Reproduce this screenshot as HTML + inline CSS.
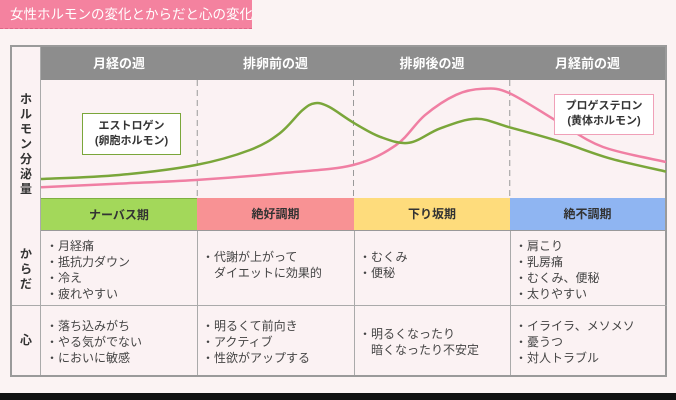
<!DOCTYPE html>
<html><head><meta charset="utf-8"><style>
body{margin:0;width:676px;height:400px;overflow:hidden;background:#fbf3f3;font-family:"Liberation Sans","Noto Sans CJK JP",sans-serif;position:relative}
.abs{position:absolute}
.ttl{left:0;top:0;width:252px;height:29px;background:#f4829f;color:#fff;font-size:13.5px;line-height:29px;padding-left:10px;box-sizing:border-box;border-bottom:1px dashed #e06688;white-space:nowrap;overflow:hidden}
.frame{left:10px;top:45px;width:657px;height:332px;border:2px solid #9a9a9a;box-sizing:border-box;background:#fbf2f3}
.hd{top:47px;height:33px;background:#8d8d8d;color:#fff;font-size:13px;font-weight:bold;text-align:center;line-height:33px}
.ph{top:198px;height:33px;font-size:12px;font-weight:bold;text-align:center;line-height:33px;color:#333;box-sizing:border-box;border-bottom:1px solid #999}
.cell{font-size:12px;color:#444;line-height:16px;white-space:nowrap}
.vl{left:12px;width:28px;text-align:center;font-size:12px;font-weight:bold;color:#333;line-height:15px}
.vline{width:1px;background:#aaa}
.bottom{left:0;top:393px;width:676px;height:7px;background:#111}
</style></head><body>
<div class="abs ttl">女性ホルモンの変化とからだと心の変化</div>
<div class="abs frame"></div>
<div class="abs vline" style="left:40px;top:47px;height:328px"></div>
<div class="abs hd" style="left:41px;width:156px">月経の週</div>
<div class="abs hd" style="left:197px;width:157px">排卵前の週</div>
<div class="abs hd" style="left:354px;width:156px">排卵後の週</div>
<div class="abs hd" style="left:510px;width:155px">月経前の週</div>
<div class="abs vl" style="top:92px">ホ<br>ル<br>モ<br>ン<br>分<br>泌<br>量</div>
<svg class="abs" style="left:0;top:0" width="676" height="400">
<g id="grid"></g><g id="lines"></g>
</svg>
<div class="abs" style="left:82px;top:113px;width:99px;height:42px;border:1.5px solid #7aa63a;background:#fff;box-sizing:border-box;text-align:center;font-size:11px;font-weight:bold;line-height:15px;padding-top:5px;color:#333">エストロゲン<br>(卵胞ホルモン)</div>
<div class="abs" style="left:554px;top:94px;width:100px;height:41px;border:1.5px solid #f0a0b8;background:#fff;box-sizing:border-box;text-align:center;font-size:11px;font-weight:bold;line-height:15px;padding-top:4px;color:#333">プロゲステロン<br>(黄体ホルモン)</div>
<div class="abs ph" style="left:41px;width:156px;background:#a3d85a;border-top:1px solid #7fb040">ナーバス期</div>
<div class="abs ph" style="left:197px;width:157px;background:#f89294">絶好調期</div>
<div class="abs ph" style="left:354px;width:156px;background:#fedc7c">下り坂期</div>
<div class="abs ph" style="left:510px;width:155px;background:#8fb5f2">絶不調期</div>
<div class="abs" style="left:12px;top:305px;width:655px;height:1px;background:#aaa"></div>
<div class="abs vline" style="left:197px;top:231px;height:144px"></div>
<div class="abs vline" style="left:354px;top:231px;height:144px"></div>
<div class="abs vline" style="left:510px;top:231px;height:144px"></div>
<div class="abs vl" style="top:247px">か<br>ら<br>だ</div>
<div class="abs vl" style="top:333px">心</div>
<div class="abs cell" style="left:46px;top:238px">・月経痛<br>・抵抗力ダウン<br>・冷え<br>・疲れやすい</div>
<div class="abs cell" style="left:202px;top:249px">・代謝が上がって<br>　ダイエットに効果的</div>
<div class="abs cell" style="left:359px;top:249px">・むくみ<br>・便秘</div>
<div class="abs cell" style="left:515px;top:238px">・肩こり<br>・乳房痛<br>・むくみ、便秘<br>・太りやすい</div>
<div class="abs cell" style="left:46px;top:318px">・落ち込みがち<br>・やる気がでない<br>・においに敏感</div>
<div class="abs cell" style="left:202px;top:318px">・明るくて前向き<br>・アクティブ<br>・性欲がアップする</div>
<div class="abs cell" style="left:359px;top:326px">・明るくなったり<br>　暗くなったり不安定</div>
<div class="abs cell" style="left:515px;top:318px">・イライラ、メソメソ<br>・憂うつ<br>・対人トラブル</div>
<div class="abs bottom"></div>
<script>
const weekBoundaries=[7,14,21];
const estrogenDays=[0,3.5,6.94,9.36,10.7,11.7,12.27,12.9,13.98,15.19,16.49,17.88,19.49,20.97,23.25,25.49,28];
const estrogenLevels=[15.8,19.2,27.5,40,54,73,79,76,63,51,46,58,66,59,47,33,22];
const progDays=[0,3.5,6.94,11,13.98,15.9,17.2,18.6,19.8,20.97,23.25,25.18,28];
const progLevels=[9,12,15,21,27.5,44,69,86,91,87.5,62.5,42.5,30];
const X=d=>41+d/28*625, Y=v=>198-v*1.2;
const NS="http://www.w3.org/2000/svg";
const grid=document.getElementById('grid'), lines=document.getElementById('lines');
weekBoundaries.forEach(d=>{
  const l=document.createElementNS(NS,'line');
  
  
  l.setAttribute('x1',X(d));l.setAttribute('x2',X(d));l.setAttribute('y1',80);l.setAttribute('y2',198);
  l.setAttribute('stroke','#999');l.setAttribute('stroke-dasharray','6,4');
  grid.appendChild(l);
});
function path(ds,vs){
  const p=ds.map((d,i)=>[X(d),Y(vs[i])]);
  let s=`M${p[0][0]},${p[0][1]}`;
  for(let i=0;i<p.length-1;i++){
    const p0=p[i-1]||p[i],p1=p[i],p2=p[i+1],p3=p[i+2]||p2;
    s+=` C${p1[0]+(p2[0]-p0[0])/6},${p1[1]+(p2[1]-p0[1])/6} ${p2[0]-(p3[0]-p1[0])/6},${p2[1]-(p3[1]-p1[1])/6} ${p2[0]},${p2[1]}`;
  }
  return s;
}
const pg=document.createElementNS(NS,'path');


pg.setAttribute('d',path(progDays,progLevels));pg.setAttribute('fill','none');pg.setAttribute('stroke','#f07fa3');pg.setAttribute('stroke-width','2.5');
lines.appendChild(pg);
const es=document.createElementNS(NS,'path');


es.setAttribute('d',path(estrogenDays,estrogenLevels));es.setAttribute('fill','none');es.setAttribute('stroke','#7aa63a');es.setAttribute('stroke-width','2.5');
lines.appendChild(es);
</script>
</body></html>
